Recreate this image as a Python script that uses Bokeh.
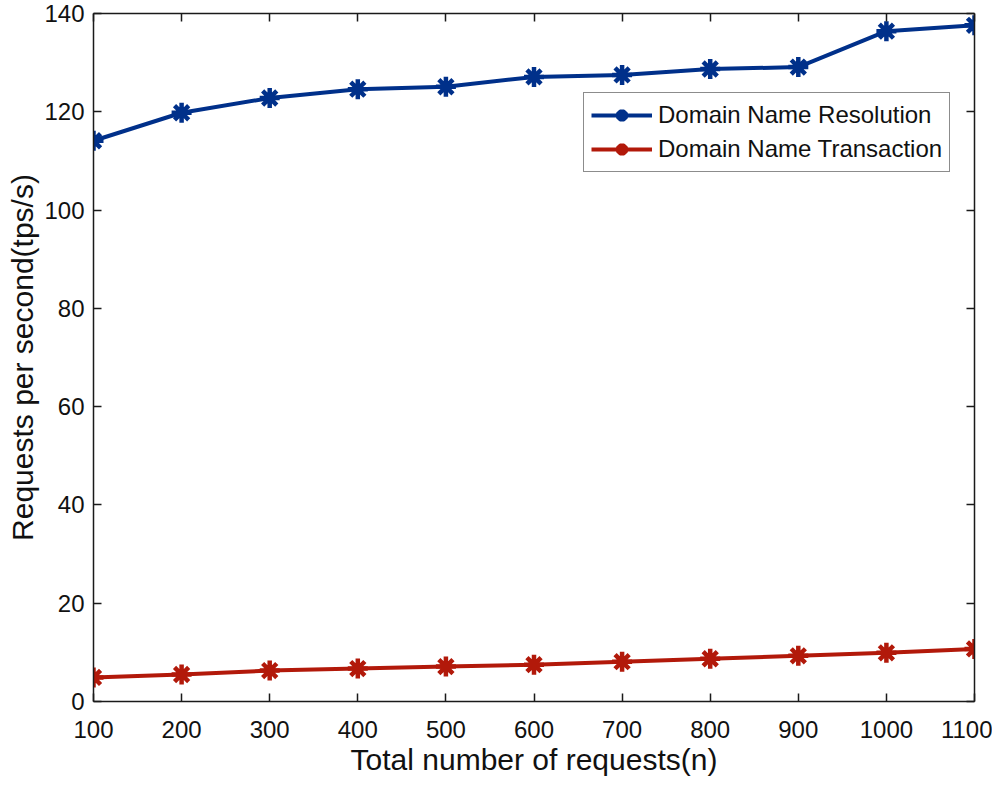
from bokeh.plotting import figure
from bokeh.models import LinearAxis, Range1d, FixedTicker, Legend, LegendItem
from bokeh.embed import file_html
from bokeh.resources import INLINE

requests_n = [100, 200, 300, 400, 500, 600, 700, 800, 900, 1000, 1100]
resolution = [114.1, 119.8, 122.8, 124.6, 125.1, 127.1, 127.5, 128.7, 129.1, 136.4, 137.6]
transaction = [4.9, 5.5, 6.3, 6.7, 7.1, 7.5, 8.1, 8.7, 9.3, 9.9, 10.7]
x_ticks = [100, 200, 300, 400, 500, 600, 700, 800, 900, 1000, 1100]
y_ticks = [0, 20, 40, 60, 80, 100, 120, 140]

BLUE = "#00308a"
RED = "#b2190a"
FONT = "Liberation Sans"

p = figure(frame_width=881, frame_height=688, min_border_left=93, min_border_right=18,
           min_border_top=13, min_border_bottom=10,
           x_range=Range1d(100, 1100), y_range=Range1d(0, 140),
           output_backend="svg", toolbar_location=None)
p.grid.visible = False
p.outline_line_color = None

def style_axis(ax, labels=True):
    ax.axis_line_color = "#1a1a1a"
    ax.axis_line_width = 1.5
    ax.major_tick_in = 8
    ax.major_tick_out = 0
    ax.minor_tick_in = 0
    ax.minor_tick_out = 0
    ax.major_tick_line_color = "#1a1a1a"
    ax.major_tick_line_width = 1.5
    ax.major_label_text_font = FONT
    ax.major_label_text_font_size = "24px"
    ax.major_label_text_color = "#111111"
    ax.axis_label_text_font = FONT
    ax.axis_label_text_font_size = "30px"
    ax.axis_label_text_font_style = "normal"
    ax.axis_label_text_color = "#111111"
    if not labels:
        ax.major_label_text_font_size = "0px"
        ax.major_label_text_alpha = 0

p.xaxis.ticker = FixedTicker(ticks=x_ticks)
p.yaxis.ticker = FixedTicker(ticks=y_ticks)
p.xaxis.axis_label = "Total number of requests(n)"
p.yaxis.axis_label = "Requests per second(tps/s)"
style_axis(p.xaxis[0])
style_axis(p.yaxis[0])
p.xaxis.major_label_standoff = 19
p.yaxis.major_label_standoff = 9
p.xaxis.axis_label_standoff = 2
p.yaxis.axis_label_standoff = 2

top = LinearAxis(ticker=FixedTicker(ticks=x_ticks))
style_axis(top, labels=False)
p.add_layout(top, "above")
right = LinearAxis(ticker=FixedTicker(ticks=y_ticks))
style_axis(right, labels=False)
p.add_layout(right, "right")

l1 = p.line(requests_n, resolution, line_color=BLUE, line_width=4)
m1 = p.scatter(requests_n, resolution, marker="asterisk", size=20, line_color=BLUE, line_width=4.5)
l2 = p.line(requests_n, transaction, line_color=RED, line_width=4)
m2 = p.scatter(requests_n, transaction, marker="asterisk", size=20, line_color=RED, line_width=4.5)

legend = Legend(items=[
    LegendItem(label="Domain Name Resolution", renderers=[l1, m1]),
    LegendItem(label="Domain Name Transaction", renderers=[l2, m2]),
], location=(490, 529))
legend.label_text_font = FONT
legend.label_text_font_size = "24px"
legend.label_text_color = "#111111"
legend.border_line_color = "#1a1a1a"
legend.border_line_width = 1.2
legend.glyph_width = 61
legend.glyph_height = 30
legend.spacing = 4
legend.padding = 7
legend.margin = 0
legend.label_standoff = 6
legend.background_fill_alpha = 1
p.add_layout(legend, "center")

open("out.html", "w").write(file_html(p, INLINE))
